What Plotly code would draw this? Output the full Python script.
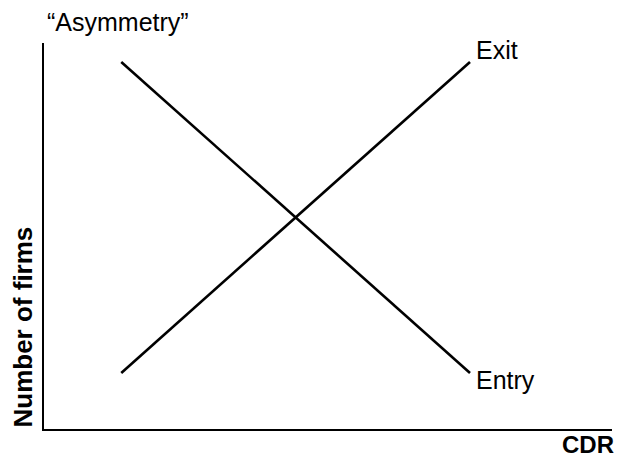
import plotly.graph_objects as go

# Data (abstract units)
cdr = [1.36, 7.5]
entry = [9.51, 1.45]
exit_ = [1.45, 9.51]
labels = {"exit": "Exit", "entry": "Entry"}
x_title = "CDR"
y_title = "Number of firms"
top_title = "\u201cAsymmetry\u201d"

FONT = "Liberation Sans, Arial, sans-serif"

fig = go.Figure()
fig.add_trace(go.Scatter(x=cdr, y=entry, mode="lines", line=dict(color="black", width=2.6),
                         name="Entry", showlegend=False, hoverinfo="skip"))
fig.add_trace(go.Scatter(x=cdr, y=exit_, mode="lines", line=dict(color="black", width=2.6),
                         name="Exit", showlegend=False, hoverinfo="skip"))

fig.add_annotation(x=cdr[-1], y=exit_[-1], text=labels["exit"], showarrow=False,
                   xanchor="left", yanchor="bottom", xshift=4, yshift=-4,
                   font=dict(family=FONT, size=25, color="black"))
fig.add_annotation(x=cdr[-1], y=entry[-1], text=labels["entry"], showarrow=False,
                   xanchor="left", yanchor="top", xshift=4, yshift=9,
                   font=dict(family=FONT, size=25, color="black"))
fig.add_annotation(xref="paper", yref="paper", x=0.0, y=1.0, text=top_title, showarrow=False,
                   xanchor="left", yanchor="bottom", xshift=1, yshift=5,
                   font=dict(family=FONT, size=25, color="black"))
fig.add_annotation(xref="paper", yref="paper", x=1.0, y=0.0, text="<b>%s</b>" % x_title, showarrow=False,
                   xanchor="right", yanchor="top", xshift=4, yshift=0,
                   font=dict(family=FONT, size=24, color="black"))
fig.add_annotation(xref="paper", yref="paper", x=0.0, y=0.0, text="<b>%s</b>" % y_title, showarrow=False,
                   textangle=-90, xanchor="right", yanchor="bottom", xshift=-5, yshift=-1,
                   font=dict(family=FONT, size=26, color="black"))

fig.update_xaxes(range=[0, 10], showline=True, linecolor="black", linewidth=2,
                 showgrid=False, zeroline=False, showticklabels=False, ticks="")
fig.update_yaxes(range=[0, 10], showline=True, linecolor="black", linewidth=2,
                 showgrid=False, zeroline=False, showticklabels=False, ticks="")

fig.update_layout(width=617, height=458, margin=dict(l=44, r=5, t=43, b=29),
                  plot_bgcolor="white", paper_bgcolor="white")

fig.write_html("out.html", config={"displayModeBar": False},
               post_script="document.body.style.margin='0';")
